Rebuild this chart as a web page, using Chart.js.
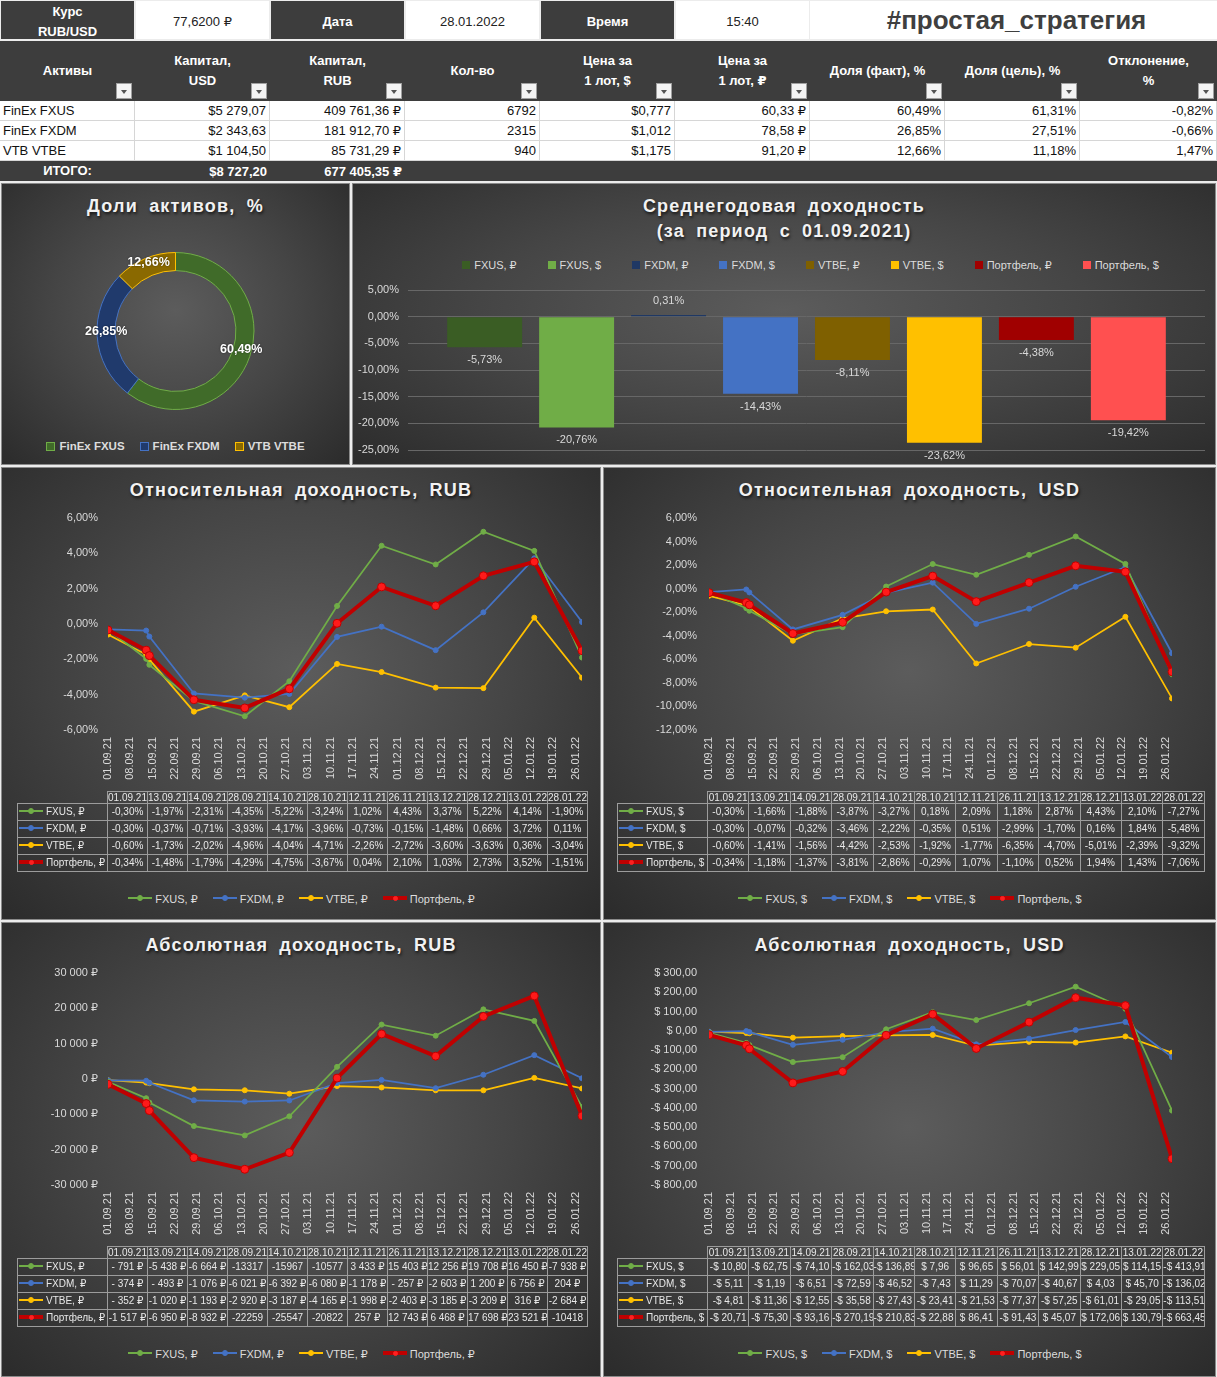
<!DOCTYPE html>
<html lang="ru">
<head>
<meta charset="utf-8">
<title>#простая_стратегия</title>
<script src="https://cdn.jsdelivr.net/npm/chart.js@4.4.1/dist/chart.umd.min.js"></script>
<style>
  html, body { margin: 0; padding: 0; }
  body {
    width: 1217px; height: 1377px; position: relative; overflow: hidden;
    background: #ececec;
    font-family: 'Liberation Sans', 'DejaVu Sans', Arial, sans-serif;
  }
  .cell { position: absolute; box-sizing: border-box; display: flex; align-items: center; font-size: 13px; }
  .dark { background: #3d3d3d; color: #fff; font-weight: bold; justify-content: center; text-align: center; line-height: 20px; }
  .white { background: #fff; color: #222; justify-content: center; }
  .row { background: #fff; color: #111; justify-content: flex-end; padding-right: 3px; border-right: 1px solid #d6d6d6; border-bottom: 1px solid #d6d6d6; }
  .row.first { justify-content: flex-start; padding-left: 3px; }
  .tot { color: #fff; font-weight: bold; justify-content: flex-end; padding-right: 3px; }
  .flt { position: absolute; width: 16px; height: 16px; box-sizing: border-box; background: #f4f4f4; border: 1px solid #a0a0a0; }
  .flt::after { content: ''; position: absolute; left: 4px; top: 6px; border-left: 3px solid transparent; border-right: 3px solid transparent; border-top: 4px solid #555; }
  .panel {
    position: absolute; box-sizing: border-box; border: 1px solid #8a8a8a;
    background: radial-gradient(ellipse at 50% 45%, #5c5c5c 0%, #454545 50%, #2b2b2b 100%);
  }
  .title {
    position: absolute; color: #f2f2f2; font-weight: bold; font-size: 18px; line-height: 24px;
    letter-spacing: 1.2px; word-spacing: 5px; text-align: center; white-space: nowrap;
    text-shadow: 1px 2px 3px rgba(0,0,0,0.7);
  }
  .box { position: absolute; }
  table.dt { position: absolute; border-collapse: collapse; table-layout: fixed; font-size: 10px; color: #e8e8e8; }
  .dt th, .dt td { border: 1px solid #9c9c9c; text-align: center; padding: 0; white-space: nowrap; overflow: hidden; font-weight: normal; }
  .dt th { height: 11px; line-height: 11px; }
  .dt td { height: 16px; line-height: 16px; }
  .dt th.blank { border: none; }
  .dt td.key { text-align: left; }
  .k { display: inline-block; position: relative; width: 24px; height: 10px; vertical-align: middle; margin: -2px 3px 0 1px; }
  .k i { position: absolute; left: 0; right: 0; top: 4px; height: 2px; background: var(--c); }
  .k b { position: absolute; left: 9px; top: 2px; width: 4px; height: 4px; border-radius: 50%; border: 1px solid var(--c); background: var(--c); }
  .k.pf i { top: 3px; height: 4px; }
  .k.pf b { left: 10px; top: 3px; width: 3px; height: 3px; background: #ff2020; border-color: #ff2020; }
  .legend { position: absolute; display: flex; justify-content: center; align-items: center; gap: 14px; font-size: 11px; color: #dcdcdc; white-space: nowrap; }
  .legend span.it { display: flex; align-items: center; }
  .sq { display: inline-block; width: 8px; height: 8px; margin-right: 4px; box-sizing: border-box; }
</style>
</head>
<body>
<div id="top"></div>

<div class="panel" style="left:1px;top:183px;width:349px;height:282px;"></div>
<div class="panel" style="left:352px;top:183px;width:864px;height:282px;"></div>
<div class="panel" style="left:1px;top:467px;width:600px;height:453px;"></div>
<div class="panel" style="left:603px;top:467px;width:613px;height:453px;"></div>
<div class="panel" style="left:1px;top:922px;width:600px;height:455px;"></div>
<div class="panel" style="left:603px;top:922px;width:613px;height:455px;"></div>

<div class="title" style="left:1px;width:349px;top:194px;">Доли активов, %</div>
<div class="title" style="left:352px;width:864px;top:194px;">Среднегодовая доходность</div>
<div class="title" style="left:352px;width:864px;top:219px;">(за период с 01.09.2021)</div>
<div class="title" style="left:1px;width:600px;top:478px;">Относительная доходность, RUB</div>
<div class="title" style="left:603px;width:613px;top:478px;">Относительная доходность, USD</div>
<div class="title" style="left:1px;width:600px;top:933px;">Абсолютная доходность, RUB</div>
<div class="title" style="left:603px;width:613px;top:933px;">Абсолютная доходность, USD</div>

<div class="box" style="left:1px;top:240px;width:349px;height:182px;"><canvas id="donut"></canvas></div>
<div class="legend" id="donutLegend" style="left:1px;width:349px;top:438px;height:16px;font-weight:bold;font-size:11.5px;gap:15px;"></div>

<div class="legend" id="barLegend" style="left:412px;width:797px;top:257px;height:16px;gap:31px;"></div>
<div class="box" style="left:352px;top:280px;width:865px;height:185px;"><canvas id="bars"></canvas></div>

<div class="box" style="left:0px;top:505px;width:601px;height:290px;"><canvas id="relRub"></canvas></div>
<div class="box" style="left:603px;top:505px;width:614px;height:290px;"><canvas id="relUsd"></canvas></div>
<div class="box" style="left:0px;top:960px;width:601px;height:290px;"><canvas id="absRub"></canvas></div>
<div class="box" style="left:603px;top:960px;width:614px;height:290px;"><canvas id="absUsd"></canvas></div>

<table class="dt" id="tRelRub" style="left:17px;top:791px;width:570px;"></table>
<table class="dt" id="tRelUsd" style="left:617px;top:791px;width:587px;"></table>
<table class="dt" id="tAbsRub" style="left:17px;top:1246px;width:570px;"></table>
<table class="dt" id="tAbsUsd" style="left:617px;top:1246px;width:587px;"></table>

<div class="legend" id="lgRelRub" style="left:1px;width:600px;top:891px;height:16px;"></div>
<div class="legend" id="lgRelUsd" style="left:603px;width:613px;top:891px;height:16px;"></div>
<div class="legend" id="lgAbsRub" style="left:1px;width:600px;top:1346px;height:16px;"></div>
<div class="legend" id="lgAbsUsd" style="left:603px;width:613px;top:1346px;height:16px;"></div>

<script>
// ---- portfolio table ----
const assets = ['FinEx FXUS', 'FinEx FXDM', 'VTB VTBE'];
const capUsd = [5279.07, 2343.63, 1104.50];
const capRub = [409761.36, 181912.70, 85731.29];
const lots = [6792, 2315, 940];
const lotUsd = [0.777, 1.012, 1.175];
const lotRub = [60.33, 78.58, 91.20];
const shareFact = [60.49, 26.85, 12.66];
const shareGoal = [61.31, 27.51, 11.18];
const deviation = [-0.82, -0.66, 1.47];
const totalUsd = 8727.20;
const totalRub = 677405.35;

// ---- average annual return (bar chart) ----
const barLabels = ['FXUS, ₽', 'FXUS, $', 'FXDM, ₽', 'FXDM, $', 'VTBE, ₽', 'VTBE, $', 'Портфель, ₽', 'Портфель, $'];
const barValues = [-5.73, -20.76, 0.31, -14.43, -8.11, -23.62, -4.38, -19.42];
const barColors = ['#3a5d24', '#70ad47', '#1f3864', '#4472c4', '#7f6000', '#ffc000', '#a00000', '#ff5050'];

// ---- line charts ----
const pointDates = ['01.09.21', '13.09.21', '14.09.21', '28.09.21', '14.10.21', '28.10.21',
                    '12.11.21', '26.11.21', '13.12.21', '28.12.21', '13.01.22', '28.01.22'];
const tickLabels = ['01.09.21', '08.09.21', '15.09.21', '22.09.21', '29.09.21', '06.10.21', '13.10.21',
                    '20.10.21', '27.10.21', '03.11.21', '10.11.21', '17.11.21', '24.11.21', '01.12.21',
                    '08.12.21', '15.12.21', '22.12.21', '29.12.21', '05.01.22', '12.01.22', '19.01.22', '26.01.22'];
const seriesNames = ['FXUS', 'FXDM', 'VTBE', 'Портфель'];
const seriesColors = ['#70ad47', '#4472c4', '#ffc000', '#c00000'];

const relRubFxus = [-0.30, -1.97, -2.31, -4.35, -5.22, -3.24, 1.02, 4.43, 3.37, 5.22, 4.14, -1.90];
const relRubFxdm = [-0.30, -0.37, -0.71, -3.93, -4.17, -3.96, -0.73, -0.15, -1.48, 0.66, 3.72, 0.11];
const relRubVtbe = [-0.60, -1.73, -2.02, -4.96, -4.04, -4.71, -2.26, -2.72, -3.60, -3.63, 0.36, -3.04];
const relRubPort = [-0.34, -1.48, -1.79, -4.29, -4.75, -3.67, 0.04, 2.10, 1.03, 2.73, 3.52, -1.51];

const relUsdFxus = [-0.30, -1.66, -1.88, -3.87, -3.27, 0.18, 2.09, 1.18, 2.87, 4.43, 2.10, -7.27];
const relUsdFxdm = [-0.30, -0.07, -0.32, -3.46, -2.22, -0.35, 0.51, -2.99, -1.70, 0.16, 1.84, -5.48];
const relUsdVtbe = [-0.60, -1.41, -1.56, -4.42, -2.53, -1.92, -1.77, -6.35, -4.70, -5.01, -2.39, -9.32];
const relUsdPort = [-0.34, -1.18, -1.37, -3.81, -2.86, -0.29, 1.07, -1.10, 0.52, 1.94, 1.43, -7.06];

const absRubFxus = [-791, -5438, -6664, -13317, -15967, -10577, 3433, 15403, 12256, 19708, 16450, -7938];
const absRubFxdm = [-374, -493, -1076, -6021, -6392, -6080, -1178, -257, -2603, 1200, 6756, 204];
const absRubVtbe = [-352, -1020, -1193, -2920, -3187, -4165, -1998, -2403, -3185, -3209, 316, -2684];
const absRubPort = [-1517, -6950, -8932, -22259, -25547, -20822, 257, 12743, 6468, 17698, 23521, -10418];

const absUsdFxus = [-10.80, -62.75, -74.10, -162.03, -136.89, 7.96, 96.65, 56.01, 142.99, 229.05, 114.15, -413.91];
const absUsdFxdm = [-5.11, -1.19, -6.51, -72.59, -46.52, -7.43, 11.29, -70.07, -40.67, 4.03, 45.70, -136.02];
const absUsdVtbe = [-4.81, -11.36, -12.55, -35.58, -27.43, -23.41, -21.53, -77.37, -57.25, -61.01, -29.05, -113.51];
const absUsdPort = [-20.71, -75.30, -93.16, -270.19, -210.83, -22.88, 86.41, -91.43, 45.07, 172.06, 130.79, -663.45];

// ---- helpers ----
const FONT = "'Liberation Sans', 'DejaVu Sans', Arial, sans-serif";
Chart.defaults.font.family = FONT;

function group(n) { return String(n).replace(/\B(?=(\d{3})+(?!\d))/g, ' '); }
function money(v, dec) {
  const [i, d] = Math.abs(v).toFixed(dec).split('.');
  return (v < 0 ? '-' : '') + group(i) + (d ? ',' + d : '');
}
const fmtPct = v => v.toFixed(2).replace('.', ',') + '%';
const fmtRubTick = v => (v < 0 ? '-' : '') + group(Math.abs(v)) + ' ₽';
const fmtUsdTick = v => (v < 0 ? '-' : '') + '$ ' + Math.abs(v).toFixed(2).replace('.', ',');
const fmtRubCell = v => {
  const a = Math.abs(v);
  if (v < 0 && a >= 10000) return '-' + a;
  return (v < 0 ? '-' : '') + (a < 1000 ? ' ' : '') + group(a) + ' ₽';
};
const fmtUsdCell = v => (v < 0 ? '-' : '') + '$ ' + Math.abs(v).toFixed(2).replace('.', ',');

function dayOf(s) {
  const [d, m, y] = s.split('.').map(Number);
  return Math.round((Date.UTC(2000 + y, m - 1, d) - Date.UTC(2021, 8, 1)) / 86400000);
}
const pointDays = pointDates.map(dayOf);
const tickDays = tickLabels.map(dayOf);

// scale sizes are fixed so the plot areas land where the sheet has them
function fixWidth(w) {
  return s => { s.width = w; s.paddingTop = 0; s.paddingBottom = 0; };
}
function fixHeight(h) {
  return s => { s.height = h; s.paddingLeft = 0; s.paddingRight = 0; };
}

// ---- top table ----
const topEl = document.getElementById('top');
function cell(x, y, w, h, html, cls, extra) {
  const d = document.createElement('div');
  d.className = 'cell ' + (cls || '');
  d.style.cssText = `left:${x}px;top:${y}px;width:${w}px;height:${h}px;` + (extra || '');
  d.innerHTML = html;
  topEl.appendChild(d);
  return d;
}
const colX = i => i * 135;
const colW = i => (i === 8 ? 137 : 135);

const row1 = ['Курс<br>RUB/USD', '77,6200 ₽', 'Дата', '28.01.2022', 'Время', '15:40'];
row1.forEach((t, i) => cell(colX(i) + 1, 1, 133, 38, t, i % 2 === 0 ? 'dark' : 'white', 'padding-top:3px;'));
cell(810, 1, 407, 38, '#простая_стратегия', 'white', 'font-size:26px;font-weight:bold;color:#3f3f3f;padding-left:6px;');

cell(0, 41, 1217, 60, '', 'dark');
const heads = ['Активы', 'Капитал,<br>USD', 'Капитал,<br>RUB', 'Кол-во', 'Цена за<br>1 лот, $',
               'Цена за<br>1 лот, ₽', 'Доля (факт), %', 'Доля (цель), %', 'Отклонение,<br>%'];
heads.forEach((t, i) => {
  cell(colX(i), 41, colW(i), 60, t, 'dark', 'background:transparent;');
  const f = document.createElement('div');
  f.className = 'flt';
  f.style.left = (colX(i) + colW(i) - 19) + 'px';
  f.style.top = '83px';
  topEl.appendChild(f);
});

assets.forEach((a, r) => {
  const y = 101 + r * 20;
  const vals = [a, '$' + money(capUsd[r], 2), money(capRub[r], 2) + ' ₽', String(lots[r]),
    '$' + lotUsd[r].toFixed(3).replace('.', ','), money(lotRub[r], 2) + ' ₽',
    fmtPct(shareFact[r]), fmtPct(shareGoal[r]), fmtPct(deviation[r])];
  vals.forEach((t, i) => cell(colX(i), y, colW(i), 20, t, 'row' + (i === 0 ? ' first' : '')));
});
cell(0, 161, 1217, 20, '', 'dark');
cell(0, 161, 135, 20, 'ИТОГО:', 'dark', 'background:transparent;');
cell(135, 161, 135, 20, '$' + money(totalUsd, 2), 'tot');
cell(270, 161, 135, 20, money(totalRub, 2) + ' ₽', 'tot');

// ---- doughnut ----
const donutFill = ['#406b29', '#203a6c', '#8a6900'];
const donutLine = ['#70ad47', '#4472c4', '#ffc000'];
const donutLabels = {
  id: 'donutLabels',
  afterDatasetsDraw(chart) {
    const ctx = chart.ctx;
    ctx.save();
    ctx.font = 'bold 12.5px ' + FONT;
    ctx.fillStyle = '#ffffff';
    ctx.textAlign = 'center';
    ctx.textBaseline = 'middle';
    ctx.shadowColor = 'rgba(0,0,0,0.6)';
    ctx.shadowBlur = 2;
    chart.getDatasetMeta(0).data.forEach((arc, i) => {
      const p = arc.tooltipPosition();
      ctx.fillText(fmtPct(shareFact[i]), p.x, p.y - 4);
    });
    ctx.restore();
  }
};
new Chart(document.getElementById('donut'), {
  type: 'doughnut',
  data: {
    labels: assets,
    datasets: [{ data: shareFact, backgroundColor: donutFill, borderColor: donutLine, borderWidth: 1 }]
  },
  options: {
    responsive: true, maintainAspectRatio: false, animation: false,
    cutout: '77%',
    layout: { padding: { top: 12, bottom: 12 } },
    plugins: { legend: { display: false }, tooltip: { enabled: false } }
  },
  plugins: [donutLabels]
});
document.getElementById('donutLegend').innerHTML = assets.map((a, i) =>
  `<span class="it"><span class="sq" style="background:${donutFill[i]};border:1.5px solid ${donutLine[i]};width:9px;height:9px;"></span>${a}</span>`).join('');

// ---- bars ----
document.getElementById('barLegend').innerHTML = barLabels.map((l, i) =>
  `<span class="it"><span class="sq" style="background:${barColors[i]}"></span>${l}</span>`).join('');
const barValueLabels = {
  id: 'barValueLabels',
  afterDatasetsDraw(chart) {
    const ctx = chart.ctx;
    ctx.save();
    ctx.font = '11px ' + FONT;
    ctx.fillStyle = '#d9d9d9';
    ctx.textAlign = 'center';
    ctx.textBaseline = 'middle';
    chart.data.datasets.forEach((ds, i) => {
      const bar = chart.getDatasetMeta(i).data[0];
      const v = ds.data[0];
      ctx.fillText(fmtPct(v), bar.x, v < 0 ? bar.y + 13 : bar.y - 14);
    });
    ctx.restore();
  }
};
new Chart(document.getElementById('bars'), {
  type: 'bar',
  data: {
    labels: [''],
    datasets: barLabels.map((l, i) => ({
      label: l, data: [barValues[i]], backgroundColor: barColors[i],
      categoryPercentage: 0.923, barPercentage: 0.815
    }))
  },
  options: {
    responsive: true, maintainAspectRatio: false, animation: false,
    layout: { padding: { top: 10, right: 12, bottom: 15, left: 0 } },
    plugins: { legend: { display: false }, tooltip: { enabled: false } },
    scales: {
      x: { display: false },
      y: {
        min: -25, max: 5,
        afterFit: fixWidth(56),
        grid: { color: '#676767', drawTicks: false },
        border: { display: false },
        ticks: { stepSize: 5, color: '#d9d9d9', font: { size: 11 }, padding: 9, callback: fmtPct }
      }
    }
  },
  plugins: [barValueLabels]
});

// ---- line charts ----
function lineChart(id, rows, unit, yMin, yMax, yStep, yFmt, yWidth, padRight, yPad) {
  new Chart(document.getElementById(id), {
    type: 'line',
    data: {
      datasets: rows.map((vals, k) => {
        const pf = k === 3;
        return {
          label: seriesNames[k] + ', ' + unit,
          data: vals.map((v, i) => ({ x: pointDays[i], y: v })),
          borderColor: seriesColors[k],
          backgroundColor: pf ? '#ff1a1a' : seriesColors[k],
          borderWidth: pf ? 4 : 1.75,
          pointRadius: pf ? 4 : 2.5,
          pointBorderWidth: 1,
          pointBorderColor: pf ? '#c00000' : seriesColors[k],
          pointBackgroundColor: pf ? '#ff1a1a' : seriesColors[k],
          tension: 0,
          order: pf ? 0 : 1
        };
      })
    },
    options: {
      responsive: true, maintainAspectRatio: false, animation: false,
      layout: { padding: { top: 13, right: padRight, bottom: 0, left: 0 } },
      plugins: { legend: { display: false }, tooltip: { enabled: false } },
      scales: {
        x: {
          type: 'linear', min: 0, max: 149,
          grid: { display: false, drawTicks: false },
          border: { display: false },
          afterBuildTicks: s => { s.ticks = tickDays.map(v => ({ value: v })); },
          afterFit: fixHeight(65),
          ticks: {
            color: '#d9d9d9', font: { size: 11 }, minRotation: 90, maxRotation: 90,
            autoSkip: false, padding: 7,
            callback: v => tickLabels[tickDays.indexOf(v)]
          }
        },
        y: {
          min: yMin, max: yMax,
          grid: { display: false, drawTicks: false },
          border: { display: false },
          afterFit: fixWidth(yWidth),
          ticks: { stepSize: yStep, color: '#d9d9d9', font: { size: 11 }, padding: yPad, callback: yFmt }
        }
      }
    }
  });
}

function keyHtml(k) {
  return `<span class="k${k === 3 ? ' pf' : ''}" style="--c:${seriesColors[k]}"><i></i><b></b></span>`;
}
function buildTable(id, rows, unit, fmt, dateW) {
  let html = '<colgroup><col style="width:90px">' + pointDates.map(() => `<col style="width:${dateW}px">`).join('') + '</colgroup>';
  html += '<tr><th class="blank"></th>' + pointDates.map(d => '<th>' + d + '</th>').join('') + '</tr>';
  rows.forEach((vals, k) => {
    html += '<tr><td class="key">' + keyHtml(k) + seriesNames[k] + ', ' + unit + '</td>' +
            vals.map(v => '<td>' + fmt(v) + '</td>').join('') + '</tr>';
  });
  document.getElementById(id).innerHTML = html;
}
function buildLegend(id, unit) {
  document.getElementById(id).innerHTML = seriesNames.map((n, k) =>
    `<span class="it">${keyHtml(k)}${n}, ${unit}</span>`).join('');
}

const relRub = [relRubFxus, relRubFxdm, relRubVtbe, relRubPort];
const relUsd = [relUsdFxus, relUsdFxdm, relUsdVtbe, relUsdPort];
const absRub = [absRubFxus, absRubFxdm, absRubVtbe, absRubPort];
const absUsd = [absUsdFxus, absUsdFxdm, absUsdVtbe, absUsdPort];

lineChart('relRub', relRub, '₽', -6, 6, 2, fmtPct, 108, 19, 10);
lineChart('relUsd', relUsd, '$', -12, 6, 2, fmtPct, 106, 45, 12);
lineChart('absRub', absRub, '₽', -30000, 30000, 10000, fmtRubTick, 108, 19, 10);
lineChart('absUsd', absUsd, '$', -800, 300, 100, fmtUsdTick, 106, 45, 12);

buildTable('tRelRub', relRub, '₽', fmtPct, 40);
buildTable('tRelUsd', relUsd, '$', fmtPct, 41.4);
buildTable('tAbsRub', absRub, '₽', fmtRubCell, 40);
buildTable('tAbsUsd', absUsd, '$', fmtUsdCell, 41.4);

buildLegend('lgRelRub', '₽');
buildLegend('lgRelUsd', '$');
buildLegend('lgAbsRub', '₽');
buildLegend('lgAbsUsd', '$');
</script>
</body>
</html>
